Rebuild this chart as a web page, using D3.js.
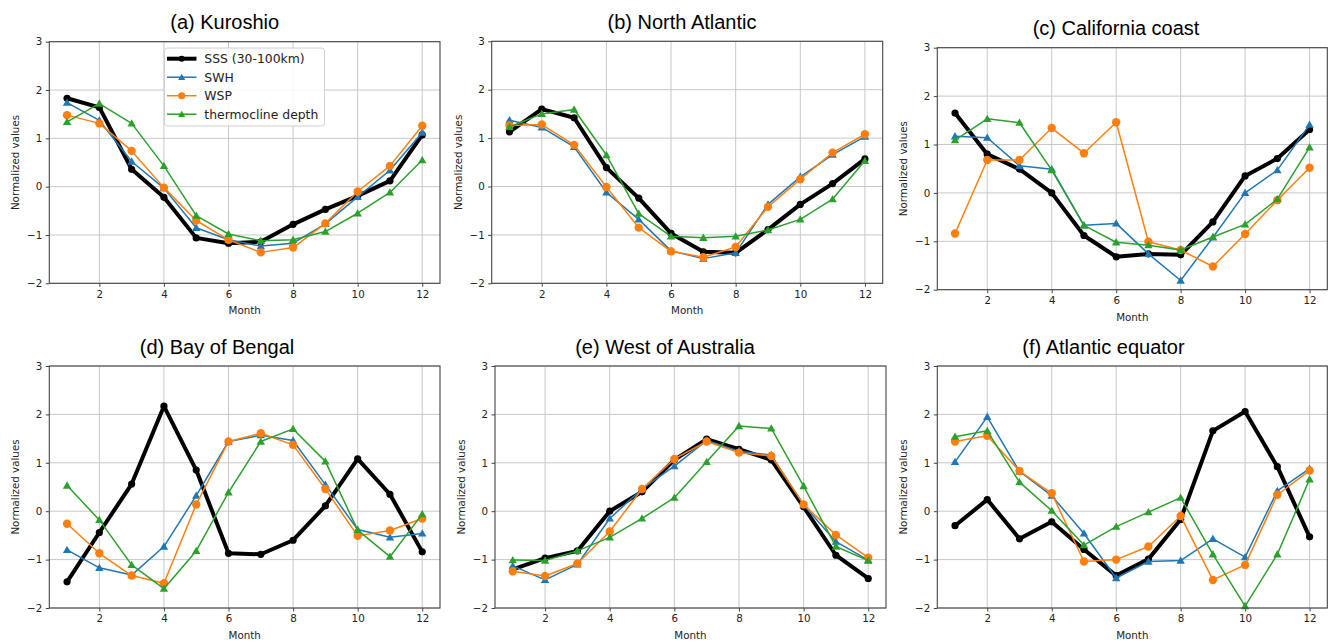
<!DOCTYPE html>
<html>
<head>
<meta charset="utf-8">
<script src="https://cdn.jsdelivr.net/npm/d3@7"></script>
<style>
  html, body { margin: 0; padding: 0; background: #fff; }
  svg { display: block; }
</style>
</head>
<body>
<svg id="chart" width="1330" height="642"></svg>
<script>
// ---------------- DATA ----------------
const months = [1, 2, 3, 4, 5, 6, 7, 8, 9, 10, 11, 12];
const xTicks = [2, 4, 6, 8, 10, 12];
const yTicks = [-2, -1, 0, 1, 2, 3];
const seriesNames = ["SSS (30-100km)", "SWH", "WSP", "thermocline depth"];
const panelTitles = ["(a) Kuroshio", "(b) North Atlantic", "(c) California coast",
                     "(d) Bay of Bengal", "(e) West of Australia", "(f) Atlantic equator"];
const xLabel = "Month";
const yLabel = "Normalized values";

// (a) Kuroshio
const sssA   = [1.83, 1.64, 0.36, -0.22, -1.06, -1.17, -1.14, -0.78, -0.47, -0.19, 0.12, 1.07];
const swhA   = [1.74, 1.37, 0.52, -0.03, -0.85, -1.10, -1.23, -1.17, -0.77, -0.21, 0.34, 1.12];
const wspA   = [1.48, 1.31, 0.74, -0.02, -0.70, -1.10, -1.36, -1.26, -0.76, -0.10, 0.43, 1.26];
const thermA = [1.34, 1.72, 1.31, 0.43, -0.60, -0.98, -1.12, -1.10, -0.93, -0.55, -0.12, 0.55];
// (b) North Atlantic
const sssB   = [1.13, 1.60, 1.42, 0.39, -0.24, -0.97, -1.35, -1.37, -0.89, -0.37, 0.06, 0.57];
const swhB   = [1.37, 1.22, 0.82, -0.12, -0.68, -1.33, -1.49, -1.37, -0.37, 0.20, 0.66, 1.03];
const wspB   = [1.26, 1.28, 0.86, -0.01, -0.85, -1.34, -1.46, -1.25, -0.42, 0.15, 0.70, 1.08];
const thermB = [1.23, 1.50, 1.59, 0.65, -0.56, -1.03, -1.06, -1.03, -0.90, -0.68, -0.26, 0.53];
// (c) California coast
const sssC   = [1.65, 0.80, 0.49, 0.00, -0.88, -1.32, -1.26, -1.28, -0.60, 0.35, 0.71, 1.31];
const swhC   = [1.17, 1.14, 0.56, 0.49, -0.67, -0.63, -1.26, -1.81, -0.92, 0.00, 0.47, 1.41];
const wspC   = [-0.84, 0.68, 0.68, 1.34, 0.82, 1.46, -1.01, -1.18, -1.52, -0.85, -0.15, 0.52];
const thermC = [1.09, 1.53, 1.45, 0.47, -0.67, -1.02, -1.08, -1.18, -0.91, -0.65, -0.13, 0.94];
// (d) Bay of Bengal
const sssD   = [-1.46, -0.44, 0.56, 2.17, 0.85, -0.87, -0.89, -0.60, 0.11, 1.08, 0.35, -0.84];
const swhD   = [-0.80, -1.17, -1.32, -0.73, 0.32, 1.44, 1.57, 1.46, 0.55, -0.38, -0.54, -0.46];
const wspD   = [-0.26, -0.87, -1.33, -1.49, 0.14, 1.44, 1.61, 1.37, 0.46, -0.51, -0.40, -0.15];
const thermD = [0.53, -0.18, -1.11, -1.60, -0.82, 0.39, 1.44, 1.70, 1.03, -0.39, -0.94, -0.06];
// (e) West of Australia
const sssE   = [-1.20, -0.97, -0.82, 0.00, 0.40, 1.06, 1.49, 1.28, 1.06, 0.09, -0.91, -1.39];
const swhE   = [-1.13, -1.42, -1.10, -0.15, 0.46, 0.93, 1.46, 1.24, 1.16, 0.13, -0.63, -1.01];
const wspE   = [-1.24, -1.34, -1.08, -0.42, 0.46, 1.08, 1.44, 1.21, 1.14, 0.14, -0.49, -0.96];
const thermE = [-1.01, -1.02, -0.82, -0.54, -0.15, 0.28, 1.02, 1.76, 1.71, 0.52, -0.73, -1.02];
// (f) Atlantic equator
const sssF   = [-0.30, 0.24, -0.57, -0.22, -0.79, -1.33, -0.99, -0.17, 1.66, 2.06, 0.92, -0.53];
const swhF   = [1.02, 1.95, 0.82, 0.32, -0.46, -1.38, -1.04, -1.02, -0.57, -0.95, 0.42, 0.88];
const wspF   = [1.44, 1.56, 0.83, 0.37, -1.04, -1.00, -0.73, -0.10, -1.42, -1.11, 0.34, 0.84];
const thermF = [1.54, 1.66, 0.60, 0.01, -0.70, -0.32, -0.02, 0.28, -0.89, -1.96, -0.89, 0.66];

const panelData = [
  [sssA, swhA, wspA, thermA],
  [sssB, swhB, wspB, thermB],
  [sssC, swhC, wspC, thermC],
  [sssD, swhD, wspD, thermD],
  [sssE, swhE, wspE, thermE],
  [sssF, swhF, wspF, thermF]
];

// ---------------- LAYOUT / STYLE ----------------
const panels = [
  { l: 49.3,  r: 440,    t: 41.7, b: 283.3, tx: 224.7, ty: 28.5, legend: true },
  { l: 491.7, r: 882.7,  t: 41.3, b: 283.3, tx: 682,   ty: 28.5 },
  { l: 937.3, r: 1327.3, t: 47.7, b: 289.7, tx: 1116,  ty: 34.8 },
  { l: 49.3,  r: 440,    t: 366,  b: 608,   tx: 217,   ty: 353.5 },
  { l: 495,   r: 886,    t: 366,  b: 608,   tx: 665,   ty: 353.5 },
  { l: 937.3, r: 1327.3, t: 366,  b: 608,   tx: 1103.5, ty: 354 }
];

const styles = [
  { color: "#000000", width: 4,   marker: "circle",   r: 3.6 },
  { color: "#1f77b4", width: 1.5, marker: "triangle", r: 4.2 },
  { color: "#ff7f0e", width: 1.5, marker: "circle",   r: 4.2 },
  { color: "#2ca02c", width: 1.5, marker: "triangle", r: 4.2 }
];

const svg = d3.select("#chart");
const tickFont = "DejaVu Sans, sans-serif";

function trianglePath(cx, cy, r) {
  // upward triangle centered at (cx, cy)
  const h = r * 1.0;
  const w = r * 1.0;
  return `M${cx},${cy - h}L${cx + w},${cy + h * 0.75}L${cx - w},${cy + h * 0.75}Z`;
}

function drawMarker(g, cx, cy, st, scale) {
  const r = st.r * (scale || 1);
  if (st.marker === "circle") {
    g.append("circle").attr("cx", cx).attr("cy", cy).attr("r", r).attr("fill", st.color);
  } else {
    g.append("path").attr("d", trianglePath(cx, cy, r)).attr("fill", st.color);
  }
}

panels.forEach((p, i) => {
  const x = d3.scaleLinear().domain([0.45, 12.55]).range([p.l, p.r]);
  const y = d3.scaleLinear().domain([-2, 3]).range([p.b, p.t]);
  const g = svg.append("g");

  // grid
  g.append("g").selectAll("line").data(xTicks).join("line")
    .attr("x1", d => x(d)).attr("x2", d => x(d))
    .attr("y1", p.t).attr("y2", p.b)
    .attr("stroke", "#c8c8c8").attr("stroke-width", 1);
  g.append("g").selectAll("line").data(yTicks).join("line")
    .attr("x1", p.l).attr("x2", p.r)
    .attr("y1", d => y(d)).attr("y2", d => y(d))
    .attr("stroke", "#c8c8c8").attr("stroke-width", 1);

  // axes
  const fmt = d => (d < 0 ? "\u2212" + Math.abs(d) : String(d));
  const xAxis = g.append("g").attr("transform", `translate(0,${p.b})`)
    .call(d3.axisBottom(x).tickValues(xTicks).tickFormat(fmt).tickSize(3.5).tickPadding(3.5));
  const yAxis = g.append("g").attr("transform", `translate(${p.l},0)`)
    .call(d3.axisLeft(y).tickValues(yTicks).tickFormat(fmt).tickSize(3.5).tickPadding(3.5));
  [xAxis, yAxis].forEach(a => {
    a.select(".domain").remove();
    a.selectAll(".tick line").attr("stroke", "#444").attr("stroke-width", 1);
    a.selectAll(".tick text").attr("fill", "#222").style("font-family", tickFont).style("font-size", "10.3px");
  });

  // data lines
  const line = d3.line().x((d, k) => x(months[k])).y(d => y(d));
  panelData[i].forEach((vals, s) => {
    const st = styles[s];
    const sg = g.append("g");
    sg.append("path").datum(vals).attr("d", line)
      .attr("fill", "none").attr("stroke", st.color).attr("stroke-width", st.width)
      .attr("stroke-linejoin", "round").attr("stroke-linecap", "round");
    vals.forEach((v, k) => drawMarker(sg, x(months[k]), y(v), st));
  });

  // frame
  g.append("rect").attr("x", p.l).attr("y", p.t).attr("width", p.r - p.l).attr("height", p.b - p.t)
    .attr("fill", "none").attr("stroke", "#444").attr("stroke-width", 1.1);

  // labels
  g.append("text").attr("x", (p.l + p.r) / 2).attr("y", p.b + 31)
    .attr("text-anchor", "middle").style("font-family", tickFont).style("font-size", "10.3px")
    .attr("fill", "#222").text(xLabel);
  g.append("text")
    .attr("transform", `translate(${p.l - 30},${(p.t + p.b) / 2}) rotate(-90)`)
    .attr("text-anchor", "middle").style("font-family", tickFont).style("font-size", "10.3px")
    .attr("fill", "#222").text(yLabel);
  g.append("text").attr("x", p.tx).attr("y", p.ty)
    .attr("text-anchor", "middle").style("font-family", "Liberation Sans, Arial, sans-serif")
    .style("font-size", "20px").attr("fill", "#000").text(panelTitles[i]);

  // legend
  if (p.legend) {
    const lg = g.append("g");
    lg.append("rect").attr("x", 164.5).attr("y", 48).attr("width", 160).attr("height", 78)
      .attr("rx", 3).attr("fill", "rgba(255,255,255,0.85)").attr("stroke", "#d0d0d0").attr("stroke-width", 1);
    seriesNames.forEach((name, s) => {
      const st = styles[s];
      const cy = 58.7 + s * 18.5;
      lg.append("line").attr("x1", 167).attr("x2", 196.5).attr("y1", cy).attr("y2", cy)
        .attr("stroke", st.color).attr("stroke-width", st.width);
      drawMarker(lg, 181.7, cy, st, 0.85);
      lg.append("text").attr("x", 204.3).attr("y", cy + 4.3)
        .style("font-family", tickFont).style("font-size", "12.4px").attr("fill", "#222").text(name);
    });
  }
});
</script>
</body>
</html>
